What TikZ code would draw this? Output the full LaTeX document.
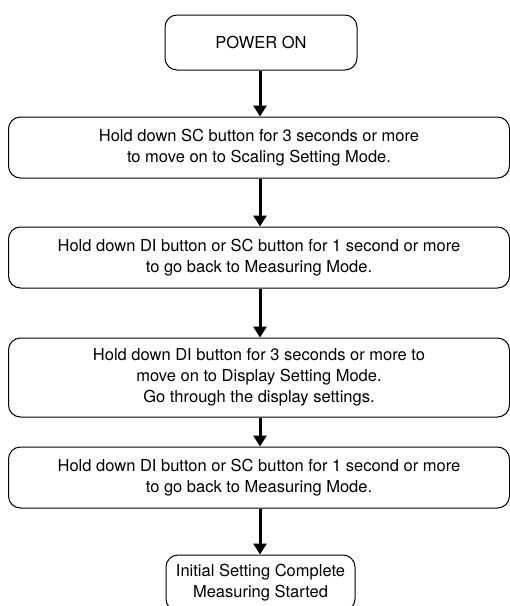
\documentclass[tikz,border=0pt]{standalone}
\usepackage{fontspec}
\setmainfont{TeX Gyre Heros}
\usetikzlibrary{arrows.meta}

\begin{document}
\begin{tikzpicture}[x=1pt,y=-1pt,
    stepbox/.style={draw,line width=1pt,rounded corners=12pt,align=center,
      font=\fontsize{16.5}{21}\selectfont,inner sep=0pt},
    flow/.style={line width=3pt,-{Triangle[width=13pt,length=11pt]}}]
    \useasboundingbox (0,0) rectangle (510,606);
    \clip (0,0) rectangle (510,606);
    \node[stepbox,minimum width=192pt,minimum height=55pt] (power) at (261,42.5) {POWER ON};
    \node[stepbox,minimum width=501pt,minimum height=61pt] (scaling) at (259,147.5)
      {Hold down SC button for 3 seconds or more\\to move on to Scaling Setting Mode.};
    \node[stepbox,minimum width=501pt,minimum height=61pt] (backone) at (259,257.5)
      {Hold down DI button or SC button for 1 second or more\\to go back to Measuring Mode.};
    \node[stepbox,minimum width=501pt,minimum height=79pt] (display) at (259,377.5)
      {Hold down DI button for 3 seconds or more to\\move on to Display Setting Mode.\\Go through the display settings.};
    \node[stepbox,minimum width=501pt,minimum height=61pt] (backtwo) at (259,477.5)
      {Hold down DI button or SC button for 1 second or more\\to go back to Measuring Mode.};
    \node[stepbox,minimum width=189pt,minimum height=56pt] (done) at (260.5,583)
      {Initial Setting Complete\\Measuring Started};
    % arrows between the steps
    \draw[flow] (power.south -| 260,0) -- (scaling.north -| 260,0);
    \draw[flow] (scaling.south -| 260,0) -- (backone.north -| 260,0);
    \draw[flow] (backone.south -| 260,0) -- (display.north -| 260,0);
    \draw[flow] (display.south -| 260,0) -- (backtwo.north -| 260,0);
    \draw[flow] (backtwo.south -| 260,0) -- (done.north -| 260,0);
\end{tikzpicture}
\end{document}
